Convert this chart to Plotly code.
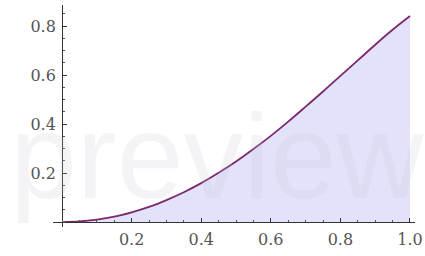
import plotly.graph_objects as go

x_vals = [0.0, 0.05, 0.1, 0.15, 0.2, 0.25, 0.3, 0.35, 0.4, 0.45, 0.5,
          0.55, 0.6, 0.65, 0.7, 0.75, 0.8, 0.85, 0.9, 0.95, 1.0]
y_vals = [0.0, 0.0025, 0.01, 0.022, 0.04, 0.062, 0.09, 0.122, 0.159, 0.201, 0.247,
          0.298, 0.352, 0.41, 0.471, 0.533, 0.597, 0.66, 0.724, 0.785, 0.841]
x_ticks = [0.2, 0.4, 0.6, 0.8, 1.0]
x_labels = ["0.2", "0.4", "0.6", "0.8", "1.0"]
y_ticks = [0.2, 0.4, 0.6, 0.8]
y_labels = ["0.2", "0.4", "0.6", "0.8"]
mesh_x = [0.2, 0.4, 0.6, 0.8]

fig = go.Figure()
fig.add_trace(go.Scatter(x=x_vals, y=y_vals, mode="lines", fill="tozeroy",
                         fillcolor="rgb(226,226,250)",
                         line=dict(color="rgb(125,40,110)", width=1.8, shape="spline"),
                         hoverinfo="skip"))

shapes = []
for mx in mesh_x:
    i = x_vals.index(mx)
    shapes.append(dict(type="line", xref="x", yref="y", x0=mx, x1=mx, y0=0, y1=y_vals[i] - 0.005,
                       line=dict(color="rgb(212,212,246)", width=1), layer="below"))

W, H = 425, 256
ml, mr, mt, mb = 53, 10, 5, 29
xr = [-0.026, 1.0144]
yr = [-0.02, 0.886]
ypos = (0 - xr[0]) / (xr[1] - xr[0])
xpos = (0 - yr[0]) / (yr[1] - yr[0])

tickfont = dict(family="DejaVu Serif, Liberation Serif, serif", size=16, color="#555")

fig.update_layout(
    width=W, height=H,
    margin=dict(l=ml, r=mr, t=mt, b=mb, autoexpand=False),
    paper_bgcolor="white", plot_bgcolor="white",
    showlegend=False,
    shapes=shapes,
    xaxis=dict(range=xr, showgrid=False, zeroline=False, showline=True, automargin=False,
               linecolor="#333", linewidth=1,
               anchor="free", position=xpos,
               ticks="inside", ticklen=4, tickcolor="#333",
               tickvals=x_ticks, ticktext=x_labels, tickfont=tickfont, ticklabelstandoff=3,
               minor=dict(ticks="inside", ticklen=2, dtick=0.05, tick0=0, tickcolor="#555", showgrid=False)),
    yaxis=dict(range=yr, showgrid=False, zeroline=False, showline=True, automargin=False,
               linecolor="#333", linewidth=1,
               anchor="free", position=ypos,
               ticks="inside", ticklen=4, tickcolor="#333",
               tickvals=y_ticks, ticktext=y_labels, tickfont=tickfont, ticklabelstandoff=3,
               minor=dict(ticks="inside", ticklen=2, dtick=0.05, tick0=0, tickcolor="#555", showgrid=False)),
    annotations=[dict(text="preview", xref="paper", yref="paper", x=0.453, y=0.32,
                      xanchor="center", yanchor="middle", showarrow=False,
                      font=dict(family="Liberation Sans, Arial, sans-serif", size=120,
                                color="rgba(200,200,215,0.2)"))],
)

fig.write_html("out.html", config={"displayModeBar": False},
               post_script="document.body.style.margin='0';document.body.style.overflow='hidden';")
